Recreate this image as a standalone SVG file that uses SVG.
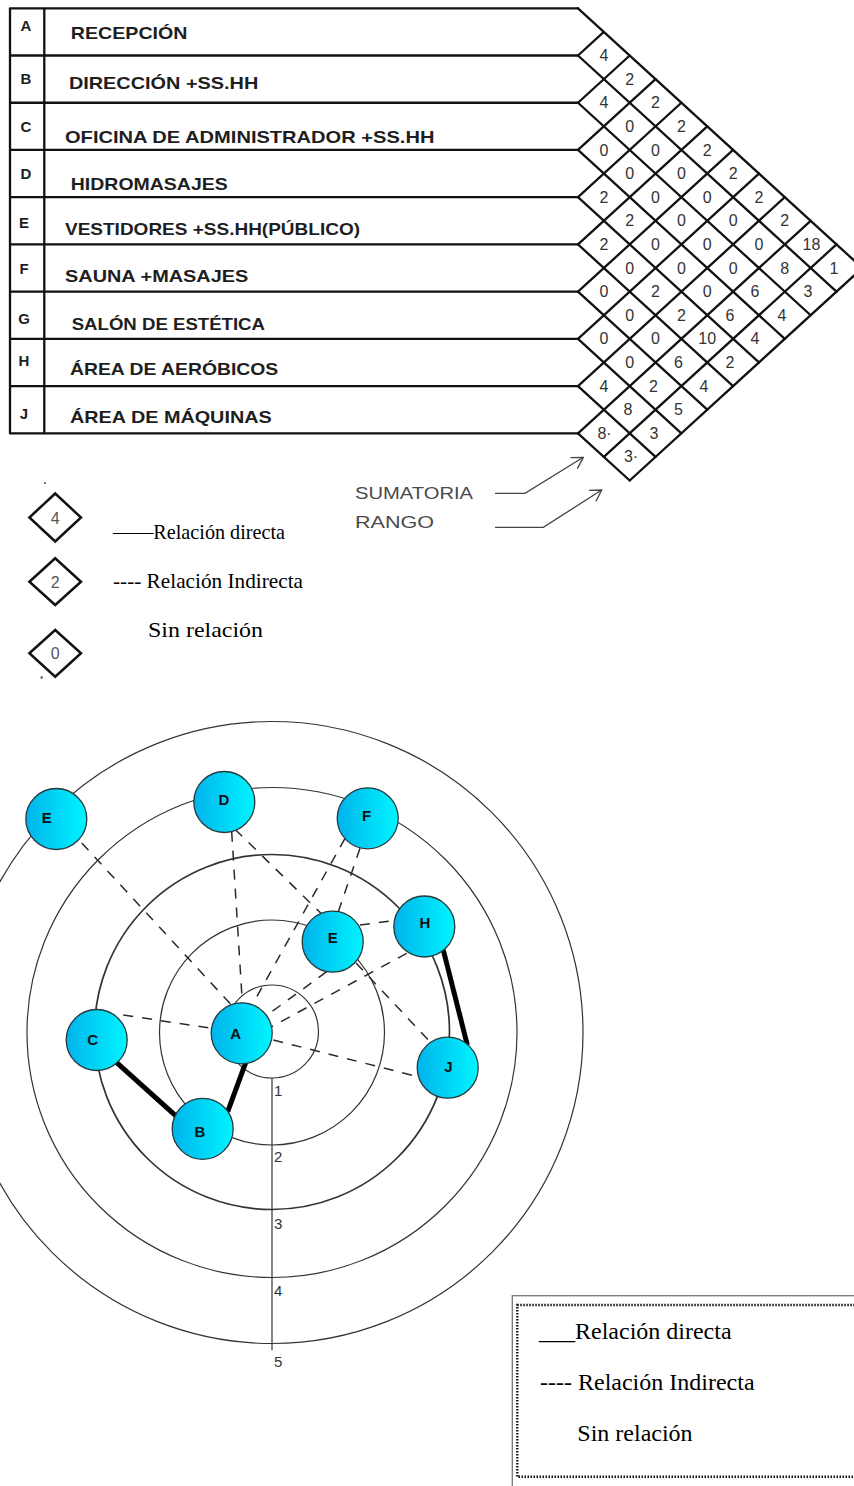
<svg xmlns="http://www.w3.org/2000/svg" width="854" height="1486" viewBox="0 0 854 1486">
<defs>
<linearGradient id="ng" x1="0" y1="0" x2="1" y2="0">
<stop offset="0" stop-color="#00b3ec"/>
<stop offset="1" stop-color="#00f5ff"/>
</linearGradient>
<marker id="arr" viewBox="0 0 14 14" refX="13" refY="7" markerWidth="14" markerHeight="14" markerUnits="userSpaceOnUse" orient="auto">
<path d="M2,0.5 L13,7 L2,13.5" fill="none" stroke="#444" stroke-width="1.3"/>
</marker>
</defs>
<style>
.grid{fill:none;stroke:#111;stroke-width:2.3;stroke-linecap:round;stroke-linejoin:miter}
.lbl{font-family:"Liberation Sans",Arial,sans-serif;font-weight:bold;font-size:17px;fill:#1e1e1e}
.let{font-family:"Liberation Sans",Arial,sans-serif;font-weight:bold;font-size:15px;fill:#1e1e1e;text-anchor:middle}
.num{font-family:"Liberation Sans",Arial,sans-serif;font-size:16px;fill:#333;text-anchor:middle}
.cap{font-family:"Liberation Sans",Arial,sans-serif;font-size:17px;fill:#4a4a4a}
.ser{font-family:"Liberation Serif","Times New Roman",serif;fill:#000}
.dia{fill:none;stroke:#111;stroke-width:2.5;stroke-linejoin:miter}
.arrow{fill:none;stroke:#444;stroke-width:1.3}
.ring{fill:none;stroke:#333;stroke-width:1.2}
.axis{font-family:"Liberation Sans",Arial,sans-serif;font-size:15px;fill:#333}
.dash{fill:none;stroke:#2a2a2a;stroke-width:1.5;stroke-dasharray:10 9}
.solid{fill:none;stroke:#000;stroke-width:5}
.node circle{fill:url(#ng);stroke:#27393d;stroke-width:1.3}
.node text{font-family:"Liberation Sans",Arial,sans-serif;font-weight:bold;font-size:15px;fill:#111;text-anchor:middle}
</style>
<rect x="0" y="0" width="854" height="1486" fill="#fff"/>

<g id="matrix">
<path class="grid" d="M10,8.3 H578 M10,55.52 H578 M10,102.74 H578 M10,149.96 H578 M10,197.18 H578 M10,244.4 H578 M10,291.62 H578 M10,338.84 H578 M10,386.06 H578 M10,433.28 H578 M10,8.3 V433.28 M44.3,8.3 V433.28"/>
<path class="grid" d="M578,8.3 L862.35,268.01 M578,55.52 L836.5,291.62 M578,102.74 L810.65,315.23 M578,149.96 L784.8,338.84 M578,197.18 L758.95,362.45 M578,244.4 L733.1,386.06 M578,291.62 L707.25,409.67 M578,338.84 L681.4,433.28 M578,386.06 L655.55,456.89 M578,433.28 L629.7,480.5"/>
<path class="grid" d="M578,55.52 L603.85,31.91 M578,102.74 L629.7,55.52 M578,149.96 L655.55,79.13 M578,197.18 L681.4,102.74 M578,244.4 L707.25,126.35 M578,291.62 L733.1,149.96 M578,338.84 L758.95,173.57 M578,386.06 L784.8,197.18 M578,433.28 L810.65,220.79 M603.85,456.89 L836.5,244.4 M629.7,480.5 L862.35,268.01"/>
</g>

<g id="row-labels">
<text class="let" x="26" y="31">A</text>
<text class="let" x="26" y="83.5">B</text>
<text class="let" x="26" y="131.5">C</text>
<text class="let" x="26" y="178.5">D</text>
<text class="let" x="24" y="227.5">E</text>
<text class="let" x="24" y="273.5">F</text>
<text class="let" x="24" y="323.5">G</text>
<text class="let" x="24" y="365.5">H</text>
<text class="let" x="24" y="418.5">J</text>
<text class="lbl" x="70.8" y="39.3" textLength="116.7" lengthAdjust="spacingAndGlyphs">RECEPCIÓN</text>
<text class="lbl" x="68.9" y="89.3" textLength="189.4" lengthAdjust="spacingAndGlyphs">DIRECCIÓN +SS.HH</text>
<text class="lbl" x="65" y="142.7" textLength="369.4" lengthAdjust="spacingAndGlyphs">OFICINA DE ADMINISTRADOR +SS.HH</text>
<text class="lbl" x="70.8" y="190" textLength="156.9" lengthAdjust="spacingAndGlyphs">HIDROMASAJES</text>
<text class="lbl" x="65" y="235" textLength="295" lengthAdjust="spacingAndGlyphs">VESTIDORES +SS.HH(PÚBLICO)</text>
<text class="lbl" x="65" y="282.3" textLength="183.3" lengthAdjust="spacingAndGlyphs">SAUNA +MASAJES</text>
<text class="lbl" x="71.7" y="330" textLength="193.3" lengthAdjust="spacingAndGlyphs">SALÓN DE ESTÉTICA</text>
<text class="lbl" x="70" y="375" textLength="208.3" lengthAdjust="spacingAndGlyphs">ÁREA DE AERÓBICOS</text>
<text class="lbl" x="70" y="423.3" textLength="201.7" lengthAdjust="spacingAndGlyphs">ÁREA DE MÁQUINAS</text>
</g>

<g id="matrix-values">
<text class="num" x="603.85" y="61">4</text>
<text class="num" x="629.7" y="84.6">2</text>
<text class="num" x="655.55" y="108.2">2</text>
<text class="num" x="681.4" y="131.9">2</text>
<text class="num" x="707.25" y="155.5">2</text>
<text class="num" x="733.1" y="179.1">2</text>
<text class="num" x="758.95" y="202.7">2</text>
<text class="num" x="784.8" y="226.3">2</text>
<text class="num" x="811.5" y="249.9">18</text>
<text class="num" x="834" y="273.5">1</text>
<text class="num" x="603.85" y="108.2">4</text>
<text class="num" x="629.7" y="131.9">0</text>
<text class="num" x="655.55" y="155.5">0</text>
<text class="num" x="681.4" y="179.1">0</text>
<text class="num" x="707.25" y="202.7">0</text>
<text class="num" x="733.1" y="226.3">0</text>
<text class="num" x="758.95" y="249.9">0</text>
<text class="num" x="784.8" y="273.5">8</text>
<text class="num" x="808" y="297.1">3</text>
<text class="num" x="603.85" y="155.5">0</text>
<text class="num" x="629.7" y="179.1">0</text>
<text class="num" x="655.55" y="202.7">0</text>
<text class="num" x="681.4" y="226.3">0</text>
<text class="num" x="707.25" y="249.9">0</text>
<text class="num" x="733.1" y="273.5">0</text>
<text class="num" x="755" y="297.1">6</text>
<text class="num" x="782" y="320.7">4</text>
<text class="num" x="603.85" y="202.7">2</text>
<text class="num" x="629.7" y="226.3">2</text>
<text class="num" x="655.55" y="249.9">0</text>
<text class="num" x="681.4" y="273.5">0</text>
<text class="num" x="707.25" y="297.1">0</text>
<text class="num" x="730" y="320.7">6</text>
<text class="num" x="755" y="344.3">4</text>
<text class="num" x="603.85" y="249.9">2</text>
<text class="num" x="629.7" y="273.5">0</text>
<text class="num" x="655.55" y="297.1">2</text>
<text class="num" x="681.4" y="320.7">2</text>
<text class="num" x="707.25" y="344.3">10</text>
<text class="num" x="730" y="368">2</text>
<text class="num" x="603.85" y="297.1">0</text>
<text class="num" x="629.7" y="320.7">0</text>
<text class="num" x="655.55" y="344.3">0</text>
<text class="num" x="678.5" y="368">6</text>
<text class="num" x="704" y="391.6">4</text>
<text class="num" x="603.85" y="344.3">0</text>
<text class="num" x="629.7" y="368">0</text>
<text class="num" x="653.5" y="391.6">2</text>
<text class="num" x="678.5" y="415.2">5</text>
<text class="num" x="603.85" y="391.6">4</text>
<text class="num" x="628" y="415.2">8</text>
<text class="num" x="654" y="438.8">3</text>
<text class="num" x="604.5" y="438.8">8·</text>
<text class="num" x="631" y="462.4">3·</text>
</g>

<g id="matrix-notes">
<text class="cap" x="355" y="499.3" textLength="118" lengthAdjust="spacingAndGlyphs">SUMATORIA</text>
<text class="cap" x="355" y="528.3" textLength="79" lengthAdjust="spacingAndGlyphs">RANGO</text>
<path class="arrow" d="M495,493.3 H525 L583.3,457.3" marker-end="url(#arr)"/>
<path class="arrow" d="M495,527.3 H543.3 L601.7,490" marker-end="url(#arr)"/>
</g>

<g id="legend-top">
<circle cx="45" cy="483" r="1.1" fill="#555"/>
<path class="dia" d="M29.4,517.5 L55.2,493.5 L81,517.5 L55.2,541.5 Z"/>
<text class="num" x="55.2" y="523.5" style="fill:#555">4</text>
<path class="dia" d="M29.4,581.7 L55.2,558.3 L81,581.7 L55.2,605 Z"/>
<text class="num" x="55.2" y="587.5" style="fill:#555">2</text>
<path class="dia" d="M29.4,653.3 L55.2,630 L81,653.3 L55.2,676.7 Z"/>
<text class="num" x="55.2" y="659" style="fill:#555">0</text>
<circle cx="41.7" cy="677.5" r="1.2" fill="#555"/>
<text class="ser" x="113" y="539.3" font-size="21" textLength="172" lengthAdjust="spacingAndGlyphs">——Relación directa</text>
<text class="ser" x="113" y="588.3" font-size="21" textLength="190" lengthAdjust="spacingAndGlyphs">---- Relación Indirecta</text>
<text class="ser" x="148" y="636.7" font-size="22" textLength="115" lengthAdjust="spacingAndGlyphs">Sin relación</text>
</g>

<g id="rings">
<circle class="ring" cx="272" cy="1031.5" r="46.5"/>
<circle class="ring" cx="272" cy="1032.5" r="112.5"/>
<circle class="ring" cx="272" cy="1032" r="177.5" style="stroke-width:1.7"/>
<circle class="ring" cx="272" cy="1032.5" r="245"/>
<circle class="ring" cx="272" cy="1032.5" r="311"/>
<line x1="272" y1="1078" x2="272" y2="1350" stroke="#333" stroke-width="1.2"/>
<text class="axis" x="274" y="1096">1</text>
<text class="axis" x="274" y="1162">2</text>
<text class="axis" x="274" y="1229">3</text>
<text class="axis" x="274" y="1296">4</text>
<text class="axis" x="274" y="1367">5</text>
</g>

<g id="connectors">
<path class="dash" d="M81.7,843 L233,1006.7"/>
<path class="dash" d="M231.7,831.7 L242.7,1008.3"/>
<path class="dash" d="M235,829.3 L321.7,914"/>
<path class="dash" d="M345,838.3 L255,1000"/>
<path class="dash" d="M360,848.3 L338.3,911.7"/>
<path class="dash" d="M326.7,971.7 L270,1013"/>
<path class="dash" d="M406.7,953.3 L271.7,1026.7"/>
<path class="dash" d="M360,925 L393.3,920.7"/>
<path class="dash" d="M356,963 L428.3,1040"/>
<path class="dash" d="M123.3,1015 L211.7,1028.3"/>
<path class="dash" d="M273.3,1040 L418,1076.7"/>
<path class="solid" d="M116.7,1062.7 L176.7,1116.7"/>
<path class="solid" d="M245.7,1062.7 L227.7,1111.7"/>
<path class="solid" d="M443.3,950 L467.3,1045"/>
</g>

<g id="node-E-outer" class="node"><circle cx="56.3" cy="819" r="30.5"/><text x="46.7" y="822.5">E</text></g>
<g id="node-D" class="node"><circle cx="224.3" cy="802" r="30.5"/><text x="224" y="804.5">D</text></g>
<g id="node-F" class="node"><circle cx="367.7" cy="818.3" r="30.5"/><text x="366.7" y="821">F</text></g>
<g id="node-E-inner" class="node"><circle cx="332.7" cy="941.7" r="30.5"/><text x="332.7" y="942.8">E</text></g>
<g id="node-H" class="node"><circle cx="424.3" cy="926.5" r="30.5"/><text x="425" y="927.8">H</text></g>
<g id="node-C" class="node"><circle cx="96.7" cy="1040" r="30.5"/><text x="92.7" y="1044.6">C</text></g>
<g id="node-A" class="node"><circle cx="241.7" cy="1033.3" r="30.5"/><text x="235.7" y="1039.3">A</text></g>
<g id="node-J" class="node"><circle cx="447.7" cy="1067.7" r="30.5"/><text x="448.3" y="1072">J</text></g>
<g id="node-B" class="node"><circle cx="202.7" cy="1128.8" r="30.5"/><text x="200" y="1137">B</text></g>

<g id="legend-bottom">
<rect x="512.3" y="1295.7" width="400" height="260" fill="none" stroke="#777" stroke-width="1.3"/>
<rect x="517.3" y="1305" width="400" height="171.7" fill="none" stroke="#111" stroke-width="2.4" stroke-dasharray="1.5 1.5"/>
<text class="ser" x="539" y="1339.3" font-size="24">___Relación directa</text>
<text class="ser" x="540" y="1390" font-size="24">---- Relación Indirecta</text>
<text class="ser" x="577.3" y="1441" font-size="24">Sin relación</text>
</g>
</svg>
